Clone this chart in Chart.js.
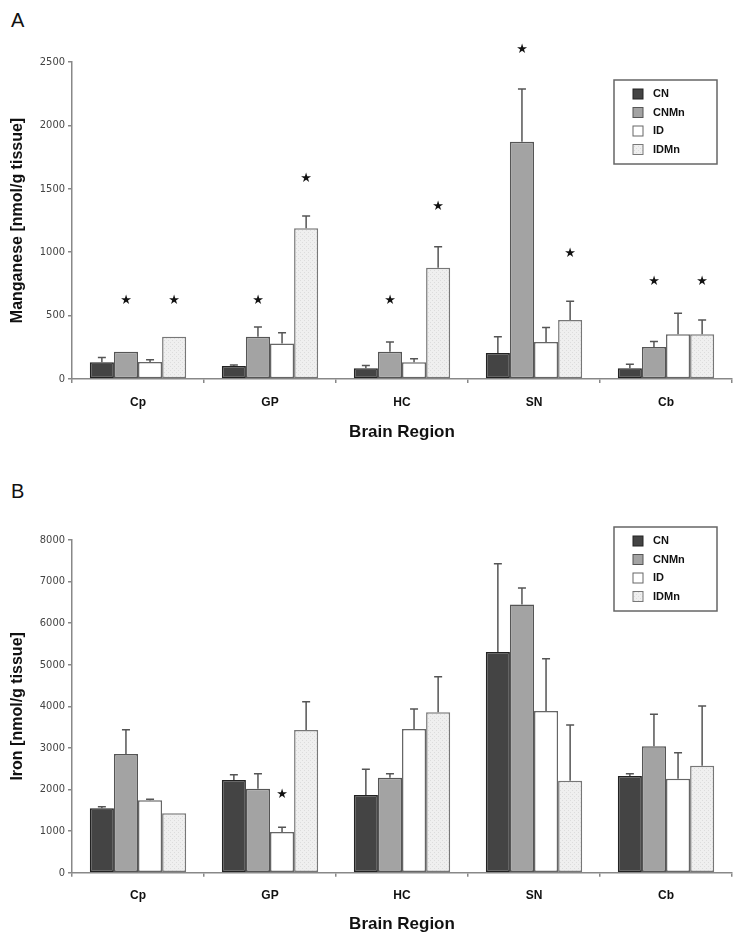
<!DOCTYPE html>
<html>
<head>
<meta charset="utf-8">
<script src="https://cdn.jsdelivr.net/npm/chart.js@4"></script>
<style>
  body { margin: 0; background: #fff; }
  .panel { position: absolute; left: 0; }
  .tag { position: absolute; left: 11px; font: 20px "Liberation Sans", Arial, sans-serif; color: #111; }
</style>
</head>
<body>
<div class="tag" style="top:9px">A</div>
<canvas id="chartA" class="panel" style="top:0" width="742" height="470"></canvas>
<div class="tag" style="top:480px">B</div>
<canvas id="chartB" class="panel" style="top:470px" width="742" height="474"></canvas>
<script>
var regions = ['Cp', 'GP', 'HC', 'SN', 'Cb'];
var groups = ['CN', 'CNMn', 'ID', 'IDMn'];

// Manganese (panel A): means, SD above the bar, star height (null = no star)
var mnCN = [132, 103, 85, 206, 85];
var mnCNMn = [214, 333, 214, 1871, 252];
var mnID = [135, 280, 132, 291, 352];
var mnIDMn = [333, 1188, 878, 466, 352];
var mnCNsd = [37, 8, 21, 127, 31];
var mnCNMnsd = [0, 77, 77, 417, 44];
var mnIDsd = [16, 85, 27, 116, 166];
var mnIDMnsd = [0, 98, 164, 148, 114];
var mnCNstar = [null, null, null, null, null];
var mnCNMnstar = [619, 619, 619, 2600, 770];
var mnIDstar = [null, null, null, null, null];
var mnIDMnstar = [619, 1579, 1357, 992, 770];

// Iron (panel B)
var feCN = [1548, 2228, 1868, 5306, 2325];
var feCNMn = [2853, 2019, 2284, 6452, 3039];
var feID = [1740, 978, 3455, 3887, 2260];
var feIDMn = [1427, 3431, 3856, 2212, 2572];
var feCNsd = [39, 128, 618, 2123, 55];
var feCNMnsd = [585, 361, 96, 392, 769];
var feIDsd = [24, 113, 480, 1257, 625];
var feIDMnsd = [0, 680, 856, 1339, 1435];
var feIDstar = [null, 1884, null, null, null];
var noStar = [null, null, null, null, null];

function dotted() {
  var c = document.createElement('canvas');
  c.width = 4; c.height = 4;
  var g = c.getContext('2d');
  g.fillStyle = '#efefef';
  g.fillRect(0, 0, 4, 4);
  g.fillStyle = '#dcdcdc';
  g.fillRect(0, 0, 1, 1);
  g.fillRect(2, 2, 1, 1);
  return g.createPattern(c, 'repeat');
}
var fills = ['#444444', '#a3a3a3', '#ffffff', dotted()];
var edges = ['#222222', '#555555', '#666666', '#777777'];

var extras = {
  id: 'extras',
  afterDatasetsDraw: function(chart) {
    var ctx = chart.ctx, y = chart.scales.y;
    ctx.save();
    chart.data.datasets.forEach(function(ds, i) {
      chart.getDatasetMeta(i).data.forEach(function(bar, j) {
        var sd = ds.sd[j];
        if (sd) {
          var top = y.getPixelForValue(ds.data[j] + sd);
          ctx.strokeStyle = '#555';
          ctx.lineWidth = 1.5;
          ctx.beginPath();
          ctx.moveTo(bar.x, bar.y);
          ctx.lineTo(bar.x, top);
          ctx.moveTo(bar.x - 4, top);
          ctx.lineTo(bar.x + 4, top);
          ctx.stroke();
        }
        var st = ds.star[j];
        if (st != null) {
          ctx.fillStyle = '#111';
          ctx.font = '13px "DejaVu Sans", sans-serif';
          ctx.textAlign = 'center';
          ctx.textBaseline = 'middle';
          ctx.fillText('\u2605', bar.x, y.getPixelForValue(st));
        }
      });
    });
    ctx.restore();
  }
};

var boxLegend = {
  id: 'boxLegend',
  afterDraw: function(chart, args, o) {
    var ctx = chart.ctx;
    ctx.save();
    ctx.strokeStyle = '#666';
    ctx.lineWidth = 1.5;
    ctx.strokeRect(o.x, o.y, 103, 84);
    ctx.font = 'bold 11px "Liberation Sans", Arial, sans-serif';
    ctx.textBaseline = 'middle';
    chart.data.datasets.forEach(function(ds, i) {
      var ry = o.y + 14 + i * 18.5;
      ctx.fillStyle = ds.backgroundColor;
      ctx.fillRect(o.x + 19, ry - 5, 10, 10);
      ctx.strokeStyle = ds.borderColor;
      ctx.lineWidth = 1;
      ctx.strokeRect(o.x + 19, ry - 5, 10, 10);
      ctx.fillStyle = '#111';
      ctx.fillText(ds.label, o.x + 39, ry);
    });
    ctx.restore();
  }
};

function makeChart(id, title, series, sds, stars, max, step, top, xHeight, titleBottom, legendY) {
  return new Chart(document.getElementById(id), {
    type: 'bar',
    data: {
      labels: regions,
      datasets: groups.map(function(g, i) {
        return {
          label: g,
          data: series[i],
          sd: sds[i],
          star: stars[i],
          backgroundColor: fills[i],
          borderColor: edges[i],
          borderWidth: 1.5,
          borderSkipped: false,
          categoryPercentage: 0.73,
          barPercentage: 1
        };
      })
    },
    options: {
      responsive: false,
      animation: false,
      layout: { padding: { top: top, right: 10, left: 0, bottom: 0 } },
      plugins: {
        legend: { display: false },
        tooltip: { enabled: false },
        boxLegend: { x: 614, y: legendY }
      },
      scales: {
        x: {
          afterFit: function(s) { s.height = xHeight; },
          grid: { display: true, drawOnChartArea: false, tickLength: 4, color: '#888', lineWidth: 1.5 },
          border: { color: '#888', width: 1.5 },
          ticks: { color: '#111', font: { family: '"Liberation Sans", Arial, sans-serif', weight: 'bold', size: 12 }, padding: 12 },
          title: { display: true, text: 'Brain Region', color: '#111',
                   font: { family: '"Liberation Sans", Arial, sans-serif', weight: 'bold', size: 17 },
                   padding: { top: 0, bottom: titleBottom } }
        },
        y: {
          min: 0, max: max,
          afterFit: function(s) { s.width = 72; },
          grid: { display: true, drawOnChartArea: false, tickLength: 4, color: '#888', lineWidth: 1.5 },
          border: { color: '#888', width: 1.5 },
          ticks: { stepSize: step, color: '#444', padding: 3,
                   callback: function(v) { return String(v); },
                   font: { family: '"Liberation Sans Narrow", "DejaVu Sans Condensed", "Liberation Sans", sans-serif', size: 11 } },
          title: { display: true, text: title, color: '#111',
                   font: { family: '"Liberation Sans", Arial, sans-serif', weight: 'bold', size: 16 },
                   padding: { top: 8, bottom: 0 } }
        }
      }
    },
    plugins: [extras, boxLegend]
  });
}

makeChart('chartA', 'Manganese [nmol/g tissue]',
  [mnCN, mnCNMn, mnID, mnIDMn], [mnCNsd, mnCNMnsd, mnIDsd, mnIDMnsd],
  [mnCNstar, mnCNMnstar, mnIDstar, mnIDMnstar], 2500, 500, 62, 91, 27, 80);

makeChart('chartB', 'Iron [nmol/g tissue]',
  [feCN, feCNMn, feID, feIDMn], [feCNsd, feCNMnsd, feIDsd, feIDMnsd],
  [noStar, noStar, feIDstar, noStar], 8000, 1000, 70, 71.3, 9, 57);
</script>
</body>
</html>
